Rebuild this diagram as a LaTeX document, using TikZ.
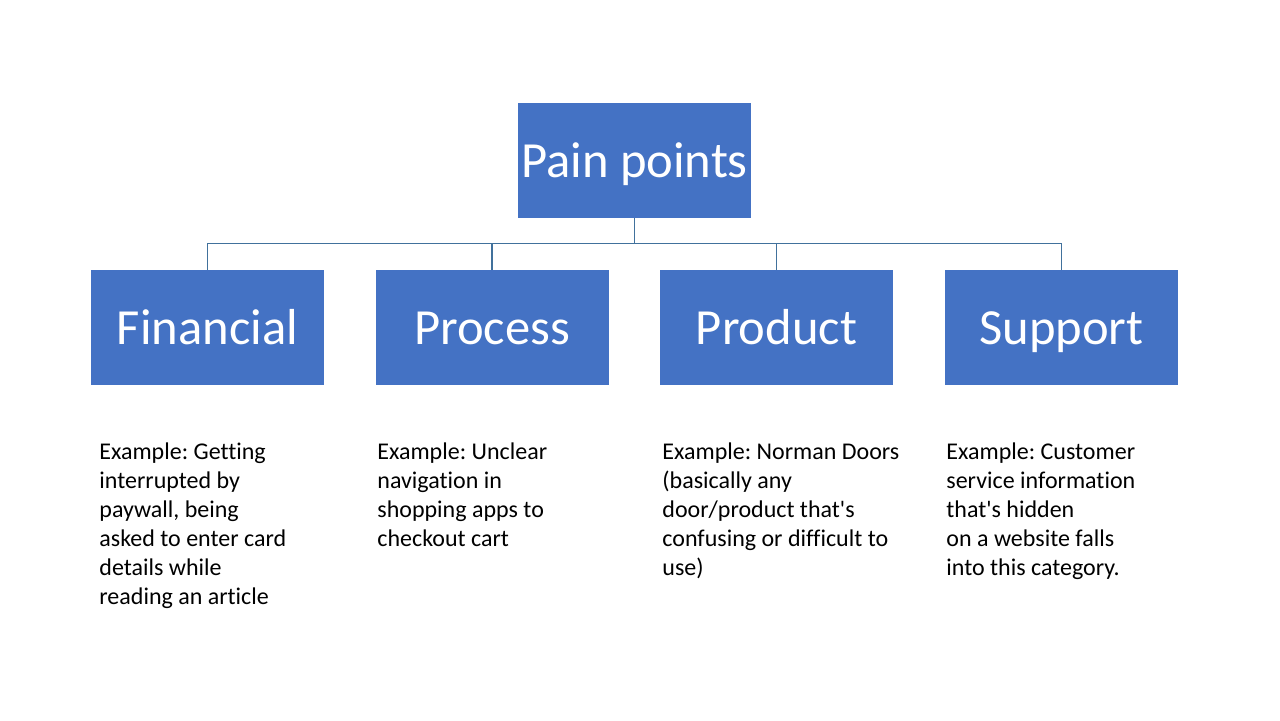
\documentclass[tikz,border=0pt]{standalone}
\usepackage{fontspec}
\setmainfont[Ligatures={NoCommon}]{Carlito}
\definecolor{boxblue}{HTML}{4472C4}
\definecolor{linecol}{HTML}{41719C}
\tikzset{
  catbox/.style={fill=boxblue, draw=none, minimum width=116.5pt, minimum height=57.5pt, inner sep=0pt, text=white, text height=20pt, text depth=3.5pt, font=\fontsize{25.3}{30}\selectfont},
  conn/.style={draw=linecol, line width=0.6pt},
  desc/.style={anchor=north west, inner sep=0pt, align=left, font=\fontsize{12}{14.5}\selectfont, text=black}
}
\begin{document}
\frenchspacing
\begin{tikzpicture}[x=0.5pt,y=-0.5pt]
\useasboundingbox (0,0) rectangle (1280,720);
\fill[white] (0,0) rectangle (1280,720);
\node[catbox] (pain) at (634.5,160.5) {Pain points};
\node[catbox] (fin) at (207.5,327.5) {Financial};
\node[catbox] (proc) at (492,327.5) {Process};
\node[catbox] (prod) at (776.5,327.5) {Product};
\node[catbox] (supp) at (1061.5,327.5) {Support};
\draw[conn] (pain.south) -- ++(0,25) -| (fin.north);
\draw[conn] (pain.south) -- ++(0,25) -| (proc.north);
\draw[conn] (pain.south) -- ++(0,25) -| (prod.north);
\draw[conn] (pain.south) -- ++(0,25) -| (supp.north);
\node[desc] (findesc) at (99,442) {Example: Getting\\interrupted by\\paywall, being\\asked to enter card\\details while\\reading an article};
\node[desc] (procdesc) at (377,442) {Example: Unclear\\navigation in\\shopping apps to\\checkout cart};
\node[desc] (proddesc) at (662,442) {Example: Norman Doors\\(basically any\\door/product that\textquotesingle s\\confusing or difficult to\\use)};
\node[desc] (suppdesc) at (946,442) {Example: Customer\\service information\\that\textquotesingle s hidden\\on a website falls\\into this category.};
\end{tikzpicture}
\end{document}
